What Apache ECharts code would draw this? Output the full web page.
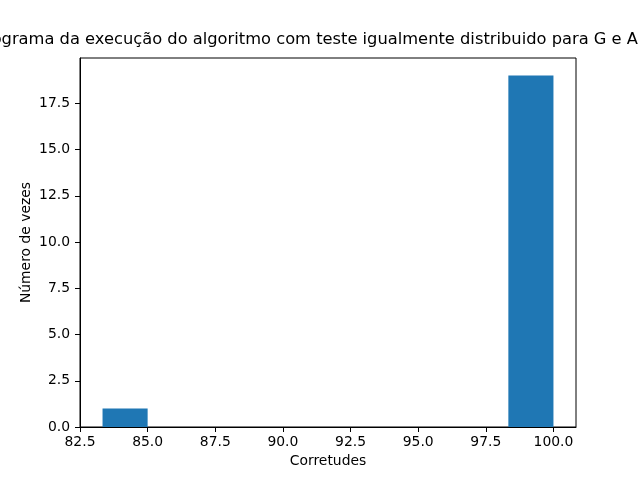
<!DOCTYPE html>
<html>
<head>
<meta charset="utf-8">
<script src="https://cdn.jsdelivr.net/npm/echarts@6/dist/echarts.min.js"></script>
<style>
  html, body { margin: 0; padding: 0; background: #fff; }
  #chart { width: 640px; height: 480px; }
</style>
</head>
<body>
<div id="chart"></div>
<script>
// histogram bins (10 bins between 83.33 and 100)
var binEdges = [83.333, 85.0, 86.667, 88.333, 90.0, 91.667, 93.333, 95.0, 96.667, 98.333, 100.0];
var counts = [1, 0, 0, 0, 0, 0, 0, 0, 0, 19];
var xTicks = [82.5, 85.0, 87.5, 90.0, 92.5, 95.0, 97.5, 100.0];
var yTicks = [0, 2.5, 5, 7.5, 10, 12.5, 15, 17.5];

var titleText = 'Histograma da execução do algoritmo com teste igualmente distribuido para G e A';
var font = 'DejaVu Sans';

var binData = counts.map(function (c, i) {
    return [binEdges[i], binEdges[i + 1], c];
});

function isTick(list, v) {
    for (var i = 0; i < list.length; i++) {
        if (Math.abs(list[i] - v) < 1e-6) return true;
    }
    return false;
}

var chart = echarts.init(document.getElementById('chart'));
chart.setOption({
    animation: false,
    title: {
        text: titleText,
        left: -45,
        top: 27,
        textStyle: { fontFamily: font, fontSize: 16.3, fontWeight: 'normal', color: '#000' }
    },
    grid: {
        left: 80, right: 64, top: 58, bottom: 53,
        show: true, borderColor: '#000', borderWidth: 1, backgroundColor: '#fff'
    },
    xAxis: {
        type: 'value',
        min: 82.5,
        max: 100.8333,
        interval: 2.5,
        name: 'Corretudes',
        nameLocation: 'middle',
        nameGap: 27,
        nameMoveOverlap: false,
        nameTextStyle: { fontFamily: font, fontSize: 13.9, color: '#000' },
        axisLine: { show: true, onZero: false, lineStyle: { color: '#000', width: 1 } },
        axisTick: { show: true, inside: false, length: 5, lineStyle: { color: '#000' } },
        axisLabel: {
            fontFamily: font, fontSize: 13.9, color: '#000', margin: 8,
            showMaxLabel: false,
            formatter: function (v) { return isTick(xTicks, v) ? v.toFixed(1) : ''; }
        },
        splitLine: { show: false }
    },
    yAxis: {
        type: 'value',
        min: 0,
        max: 19.95,
        interval: 2.5,
        name: 'Número de vezes',
        nameLocation: 'middle',
        nameGap: 47,
        nameMoveOverlap: false,
        nameTextStyle: { fontFamily: font, fontSize: 13.9, color: '#000' },
        axisLine: { show: true, lineStyle: { color: '#000', width: 1 } },
        axisTick: { show: true, inside: false, length: 5, lineStyle: { color: '#000' } },
        axisLabel: {
            fontFamily: font, fontSize: 13.9, color: '#000', margin: 10,
            showMaxLabel: false,
            formatter: function (v) { return isTick(yTicks, v) ? v.toFixed(1) : ''; }
        },
        splitLine: { show: false }
    },
    series: [{
        type: 'custom',
        data: binData,
        renderItem: function (params, api) {
            var p0 = api.coord([api.value(0), 0]);
            var p1 = api.coord([api.value(1), api.value(2)]);
            return {
                type: 'rect',
                shape: { x: p0[0], y: p1[1], width: p1[0] - p0[0], height: p0[1] - p1[1] },
                style: { fill: '#1f77b4', stroke: null, lineWidth: 0 }
            };
        },
        encode: { x: [0, 1], y: 2 }
    }]
});
</script>
</body>
</html>
